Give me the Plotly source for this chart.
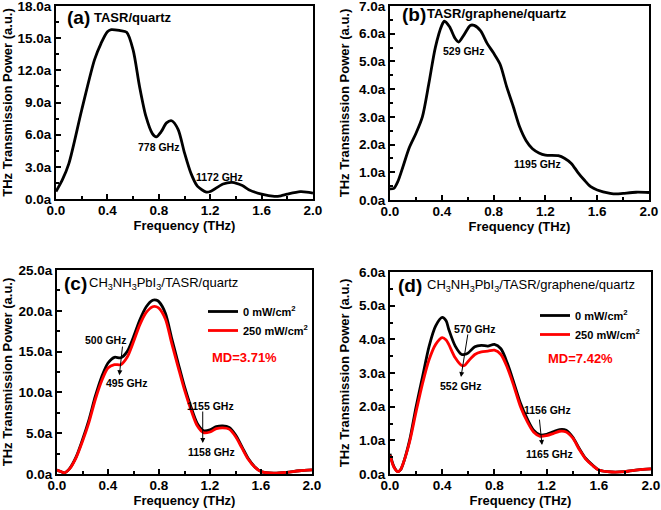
import plotly.graph_objects as go

# ---------------- data ----------------
freq_a = [0, 0.05, 0.1, 0.2, 0.3, 0.35, 0.4, 0.43, 0.5, 0.55, 0.6, 0.65, 0.7, 0.75, 0.78,
          0.82, 0.86, 0.9, 0.95, 1.0, 1.05, 1.1, 1.17, 1.2, 1.3, 1.37, 1.45, 1.5, 1.6,
          1.7, 1.75, 1.8, 1.9, 1.95, 2.0]
power_a = [0.7, 1.8, 3.3, 8.3, 13.0, 14.5, 15.6, 15.8, 15.7, 15.55, 13.9, 10.5, 7.7, 6.1, 5.8,
           6.3, 7.1, 7.3, 6.5, 4.3, 2.4, 1.2, 0.65, 0.7, 1.4, 1.55, 1.25, 0.87, 0.45,
           0.25, 0.3, 0.45, 0.68, 0.65, 0.55]

freq_b = [0, 0.03, 0.06, 0.1, 0.15, 0.2, 0.25, 0.3, 0.35, 0.4, 0.42, 0.46, 0.5, 0.53, 0.57,
          0.62, 0.65, 0.7, 0.75, 0.8, 0.85, 0.9, 0.95, 1.0, 1.05, 1.1, 1.15, 1.2, 1.3,
          1.35, 1.4, 1.45, 1.5, 1.55, 1.6, 1.7, 1.75, 1.8, 1.9, 2.0]
power_b = [0.4, 0.42, 0.66, 1.2, 1.9, 2.4, 3.0, 4.2, 5.5, 6.3, 6.45, 6.25, 5.85, 5.7, 5.95,
           6.3, 6.3, 6.1, 5.65, 5.3, 4.9, 4.1, 3.4, 2.65, 2.15, 1.85, 1.7, 1.62, 1.6,
           1.5, 1.32, 1.0, 0.72, 0.48, 0.36, 0.24, 0.22, 0.24, 0.28, 0.27]

freq_c = [0, 0.03, 0.06, 0.1, 0.15, 0.2, 0.25, 0.3, 0.35, 0.4, 0.45, 0.5, 0.55, 0.6, 0.65,
          0.7, 0.75, 0.78, 0.8, 0.85, 0.9, 0.95, 1.0, 1.05, 1.1, 1.15, 1.2, 1.25, 1.3,
          1.35, 1.4, 1.45, 1.5, 1.55, 1.6, 1.7, 1.8, 1.9, 2.0]
power_c_dark = [0.5, 0.3, 0.15, 0.7, 2.1, 4.2, 6.6, 9.5, 11.9, 13.6, 14.3, 14.25, 15.0, 16.8, 18.9,
                20.5, 21.3, 21.3, 21.1, 19.7, 16.6, 13.6, 10.7, 8.25, 6.2, 5.3, 5.4, 5.8, 5.9,
                5.7, 4.8, 3.35, 1.9, 0.9, 0.3, 0.1, 0.2, 0.4, 0.5]
power_c_light = [0.5, 0.3, 0.15, 0.65, 2.0, 4.0, 6.3, 9.1, 11.4, 13.0, 13.4, 13.4, 14.3, 16.2, 18.3,
                 19.8, 20.5, 20.5, 20.3, 19.0, 16.0, 13.1, 10.3, 7.9, 5.9, 5.05, 5.15, 5.55, 5.65,
                 5.5, 4.6, 3.2, 1.8, 0.85, 0.3, 0.1, 0.2, 0.4, 0.5]

freq_d = [0, 0.03, 0.06, 0.08, 0.1, 0.15, 0.2, 0.25, 0.3, 0.35, 0.4, 0.43, 0.45, 0.5, 0.55,
          0.57, 0.6, 0.65, 0.7, 0.75, 0.8, 0.85, 0.9, 0.95, 1.0, 1.05, 1.1, 1.15, 1.2,
          1.25, 1.3, 1.35, 1.4, 1.45, 1.5, 1.55, 1.6, 1.7, 1.8, 1.9, 2.0]
power_d_dark = [0.6, 0.22, 0.07, 0.12, 0.3, 1.0, 2.0, 2.9, 3.8, 4.4, 4.65, 4.55, 4.3, 3.8, 3.55,
                3.55, 3.6, 3.78, 3.82, 3.8, 3.85, 3.72, 3.28, 2.7, 2.1, 1.65, 1.3, 1.16, 1.18,
                1.25, 1.32, 1.3, 1.1, 0.76, 0.46, 0.27, 0.12, 0.06, 0.07, 0.12, 0.15]
power_d_light = [0.55, 0.2, 0.07, 0.12, 0.3, 0.95, 1.85, 2.7, 3.4, 3.85, 4.05, 3.98, 3.85, 3.45, 3.22,
                 3.22, 3.35, 3.55, 3.63, 3.65, 3.68, 3.55, 3.15, 2.6, 2.0, 1.57, 1.25, 1.12, 1.14,
                 1.2, 1.27, 1.25, 1.07, 0.73, 0.44, 0.26, 0.12, 0.06, 0.07, 0.12, 0.15]

series_names = ["0 mW/cm<sup>2</sup>", "250 mW/cm<sup>2</sup>"]
panel_letters = ["(a)", "(b)", "(c)", "(d)"]
panel_titles = ["TASR/quartz", "TASR/graphene/quartz",
                "CH<sub>3</sub>NH<sub>3</sub>PbI<sub>3</sub>/TASR/quartz",
                "CH<sub>3</sub>NH<sub>3</sub>PbI<sub>3</sub>/TASR/graphene/quartz"]
y_max = [18, 7, 25, 6]
y_step = [3, 1, 5, 1]
md_labels = ["MD=3.71%", "MD=7.42%"]

# peak labels: (panel, x, y, text)
peak_labels = [
    (0, 0.794, 4.85, "778 GHz"), (0, 1.276, 2.05, "1172 GHz"),
    (1, 0.571, 5.38, "529 GHz"), (1, 1.139, 1.30, "1195 GHz"),
    (2, 0.384, 16.4, "500 GHz"), (2, 0.545, 11.15, "495 GHz"),
    (2, 1.204, 8.33, "1155 GHz"), (2, 1.213, 2.7, "1158 GHz"),
    (3, 0.651, 4.31, "570 GHz"), (3, 0.544, 2.61, "552 GHz"),
    (3, 1.208, 1.90, "1156 GHz"), (3, 1.226, 0.59, "1165 GHz"),
]
# arrows: (panel, tail_x, tail_y, head_x, head_y)
arrows = [
    (2, 0.515, 15.8, 0.489, 12.1), (2, 1.143, 7.84, 1.143, 3.8),
    (3, 0.598, 4.19, 0.544, 2.88), (3, 1.144, 1.66, 1.165, 0.86),
]

# ---------------- layout ----------------
W, H = 661, 510
boxes = [  # left, right, top, bottom (pixels)
    (56, 313, 6, 199),
    (390, 649, 6, 200),
    (57, 312, 270, 474),
    (390, 651, 272, 474),
]

FONT = "Liberation Sans"
fig = go.Figure()

axis_ids = ["", "2", "3", "4"]

def add(panel, x, y, color, name=None, legend=None):
    fig.add_trace(go.Scatter(
        x=x, y=y, mode="lines",
        line=dict(color=color, width=2.8, shape="spline", smoothing=0.8),
        xaxis="x" + axis_ids[panel], yaxis="y" + axis_ids[panel],
        name=name, showlegend=name is not None, legend=legend,
    ))

add(0, freq_a, power_a, "black")
add(1, freq_b, power_b, "black")
add(2, freq_c, power_c_dark, "black", series_names[0], "legend")
add(2, freq_c, power_c_light, "#ff0000", series_names[1], "legend")
add(3, freq_d, power_d_dark, "black", series_names[0], "legend2")
add(3, freq_d, power_d_light, "#ff0000", series_names[1], "legend2")

tickfont = dict(family=FONT, size=13.5, color="black", weight="bold")
titlefont = dict(family=FONT, size=13, color="black", weight="bold")

layout = dict(
    width=W, height=H, margin=dict(l=0, r=0, t=0, b=0),
    paper_bgcolor="white", plot_bgcolor="white", showlegend=True,
)
for i, (l, r, t, b) in enumerate(boxes):
    sx = axis_ids[i]
    layout["xaxis" + sx] = dict(
        domain=[l / W, r / W], range=[0, 2], anchor="y" + sx, automargin=False,
        tickmode="linear", tick0=0, dtick=0.4, tickformat=".1f", ticklabeloverflow="allow",
        ticks="inside", ticklen=5, tickwidth=1.5, tickcolor="black",
        minor=dict(ticks="inside", ticklen=3, tickwidth=1.5, tickcolor="black", dtick=0.2),
        showline=True, linewidth=2, linecolor="black", mirror=True,
        showgrid=False, zeroline=False, tickfont=tickfont, ticklabelstandoff=-2,
        title=dict(text="Frequency (THz)", font=titlefont, standoff=0),
    )
    layout["yaxis" + sx] = dict(
        domain=[1 - b / H, 1 - t / H], range=[0, y_max[i]], anchor="x" + sx, automargin=False,
        tickmode="linear", tick0=0, dtick=y_step[i], tickformat=".1f", ticksuffix="a",
        ticklabeloverflow="allow",
        ticks="inside", ticklen=5, tickwidth=1.5, tickcolor="black",
        minor=dict(ticks="inside", ticklen=3, tickwidth=1.5, tickcolor="black", dtick=y_step[i] / 2),
        showline=True, linewidth=2, linecolor="black", mirror=True,
        showgrid=False, zeroline=False, tickfont=tickfont,
        title=dict(text="THz Transmission Power (a.u.)", font=titlefont, standoff=6),
    )

legend_pos = [(2, 203, 297), (3, 535, 301)]
for (panel, lx, ty), key in zip(legend_pos, ["legend", "legend2"]):
    layout[key] = dict(
        x=lx / W, y=1 - ty / H, xanchor="left", yanchor="top",
        bgcolor="rgba(0,0,0,0)", borderwidth=0,
        font=dict(family=FONT, size=11, color="black", weight="bold"),
        itemwidth=30, tracegroupgap=0,
    )
fig.update_layout(**layout)

annotations = []
letter_pos = [(0.035, 0.938), (0.039, 0.954), (0.02, 0.936), (0.023, 0.931)]
title_pos = [(0.14, 0.938), (0.135, 0.959), (0.118, 0.936), (0.134, 0.931)]
for i in range(4):
    sx = axis_ids[i]
    annotations.append(dict(
        text=panel_letters[i], x=letter_pos[i][0], y=letter_pos[i][1],
        xref="x" + sx + " domain", yref="y" + sx + " domain",
        xanchor="left", yanchor="middle", showarrow=False,
        font=dict(family=FONT, size=19, color="black", weight="bold"),
    ))
    annotations.append(dict(
        text=panel_titles[i], x=title_pos[i][0], y=title_pos[i][1],
        xref="x" + sx + " domain", yref="y" + sx + " domain",
        xanchor="left", yanchor="middle", showarrow=False,
        font=dict(family=FONT, size=13, color="black",
                  weight="bold" if i < 2 else "normal"),
    ))
for panel, x, y, txt in peak_labels:
    sx = axis_ids[panel]
    annotations.append(dict(
        text=txt, x=x, y=y, xref="x" + sx, yref="y" + sx, showarrow=False,
        font=dict(family=FONT, size=10.5, color="black", weight="bold"),
    ))
for panel, x0, y0, x1, y1 in arrows:
    sx = axis_ids[panel]
    annotations.append(dict(
        text="", x=x1, y=y1, ax=x0, ay=y0, xref="x" + sx, yref="y" + sx,
        axref="x" + sx, ayref="y" + sx, showarrow=True,
        arrowhead=2, arrowsize=1, arrowwidth=1, arrowcolor="black",
    ))
for panel, txt, x, y in [(2, md_labels[0], 1.467, 14.3), (3, md_labels[1], 1.46, 3.42)]:
    sx = axis_ids[panel]
    annotations.append(dict(
        text=txt, x=x, y=y, xref="x" + sx, yref="y" + sx, showarrow=False,
        font=dict(family=FONT, size=13, color="#ff0000", weight="bold"),
    ))
fig.update_layout(annotations=annotations)

fig.write_html("out.html", config={"displayModeBar": False},
               post_script="document.body.style.margin='0';document.body.style.overflow='hidden';")
